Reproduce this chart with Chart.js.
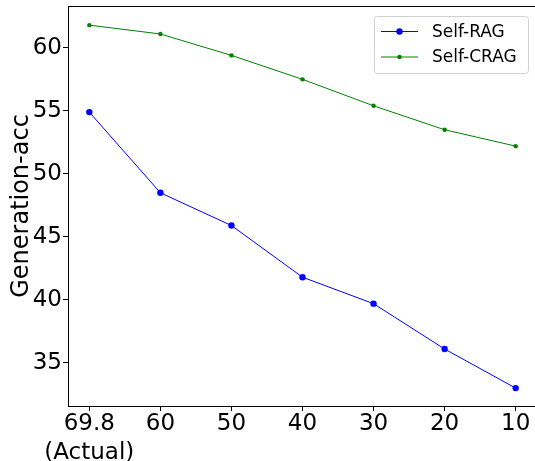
<!DOCTYPE html>
<html lang="en">
<head>
<meta charset="UTF-8">
<script src="https://cdn.jsdelivr.net/npm/chart.js@4.4.1/dist/chart.umd.min.js"></script>
<title>Generation-acc</title>
<style>
  html, body { margin: 0; padding: 0; overflow: hidden; background: #fff; }
  #wrap { width: 545px; height: 461px; }
</style>
</head>
<body>
<div id="wrap"><canvas id="line-chart" width="545" height="461"></canvas></div>
<script>
// x positions are category indexes, labels below
var categories = [["69.8", "(Actual)"], "60", "50", "40", "30", "20", "10"];
var selfRag = [54.9, 48.5, 45.9, 41.8, 39.7, 36.1, 33.0];
var selfCrag = [61.8, 61.1, 59.4, 57.5, 55.4, 53.5, 52.2];
var yTicks = [35, 40, 45, 50, 55, 60];

var FONT = "'DejaVu Sans', sans-serif";

function toPoints(vals) {
    return vals.map(function (v, i) { return { x: i, y: v }; });
}

// matplotlib-style boxed legend with line+marker samples
var legendBox = {
    id: 'legendBox',
    afterDraw: function (chart) {
        var ctx = chart.ctx;
        var area = chart.chartArea;
        var x0 = 374, y0 = 16, w = 154, h = 57;
        ctx.save();
        ctx.fillStyle = 'rgba(255,255,255,0.8)';
        ctx.strokeStyle = '#d0d0d0';
        ctx.lineWidth = 1;
        ctx.beginPath();
        ctx.roundRect(x0 + 0.5, y0 + 0.5, w, h, 3);
        ctx.fill();
        ctx.stroke();
        ctx.font = '17px ' + FONT;
        ctx.textBaseline = 'middle';
        chart.data.datasets.forEach(function (ds, i) {
            var cy = y0 + 15.5 + i * 25.5;
            ctx.strokeStyle = ds.borderColor;
            ctx.lineWidth = 1;
            ctx.beginPath();
            ctx.moveTo(x0 + 7, cy);
            ctx.lineTo(x0 + 44, cy);
            ctx.stroke();
            ctx.fillStyle = ds.pointBackgroundColor;
            ctx.beginPath();
            ctx.arc(x0 + 25.5, cy, ds.pointRadius, 0, Math.PI * 2);
            ctx.fill();
            ctx.fillStyle = '#000';
            ctx.fillText(ds.label, x0 + 58, cy + 1);
        });
        // top and right spines
        ctx.strokeStyle = '#000';
        ctx.lineWidth = 1;
        ctx.beginPath();
        ctx.moveTo(area.left, area.top + 0.5);
        ctx.lineTo(area.right + 0.5, area.top + 0.5);
        ctx.lineTo(area.right + 0.5, area.bottom);
        ctx.stroke();
        ctx.restore();
    }
};

var line_ctx = document.getElementById('line-chart').getContext('2d');

var line_chart = new Chart(line_ctx, {
    type: 'line',
    data: {
        datasets: [{
            label: 'Self-RAG',
            data: toPoints(selfRag),
            borderColor: '#0000ff',
            backgroundColor: '#0000ff',
            pointBackgroundColor: '#0000ff',
            pointBorderWidth: 0,
            pointRadius: 3.2,
            borderWidth: 1,
            tension: 0
        }, {
            label: 'Self-CRAG',
            data: toPoints(selfCrag),
            borderColor: '#008000',
            backgroundColor: '#008000',
            pointBackgroundColor: '#008000',
            pointBorderWidth: 0,
            pointRadius: 2.2,
            borderWidth: 1,
            tension: 0
        }]
    },
    options: {
        responsive: false,
        animation: false,
        maintainAspectRatio: false,
        layout: { padding: { top: 6, right: 8, left: 0, bottom: 0 } },
        plugins: {
            legend: { display: false },
            tooltip: { enabled: false }
        },
        scales: {
            x: {
                type: 'linear',
                min: -0.3,
                max: 6.3,
                afterBuildTicks: function (scale) {
                    scale.ticks = categories.map(function (c, i) { return { value: i }; });
                },
                afterFit: function (scale) {
                    scale.height = 55;
                    scale.paddingLeft = 0;
                    scale.paddingRight = 0;
                },
                ticks: {
                    autoSkip: false,
                    maxRotation: 0,
                    color: '#000',
                    padding: -1,
                    font: { family: FONT, size: 23, lineHeight: 1.25 },
                    callback: function (v) { return categories[v]; }
                },
                grid: { drawOnChartArea: false, drawTicks: true, tickLength: 5, color: '#000' },
                border: { display: true, color: '#000', width: 1 }
            },
            y: {
                min: 31.58,
                max: 63.32,
                afterBuildTicks: function (scale) {
                    scale.ticks = yTicks.map(function (v) { return { value: v }; });
                },
                afterFit: function (scale) {
                    scale.width = 68;
                    scale.paddingTop = 0;
                    scale.paddingBottom = 0;
                },
                ticks: {
                    color: '#000',
                    padding: 1,
                    font: { family: FONT, size: 23 }
                },
                title: {
                    display: true,
                    text: 'Generation-acc',
                    color: '#000',
                    padding: { top: 7.5, bottom: 0 },
                    font: { family: FONT, size: 24 }
                },
                grid: { drawOnChartArea: false, drawTicks: true, tickLength: 5, color: '#000' },
                border: { display: true, color: '#000', width: 1 }
            }
        }
    },
    plugins: [legendBox]
});
</script>
</body>
</html>
